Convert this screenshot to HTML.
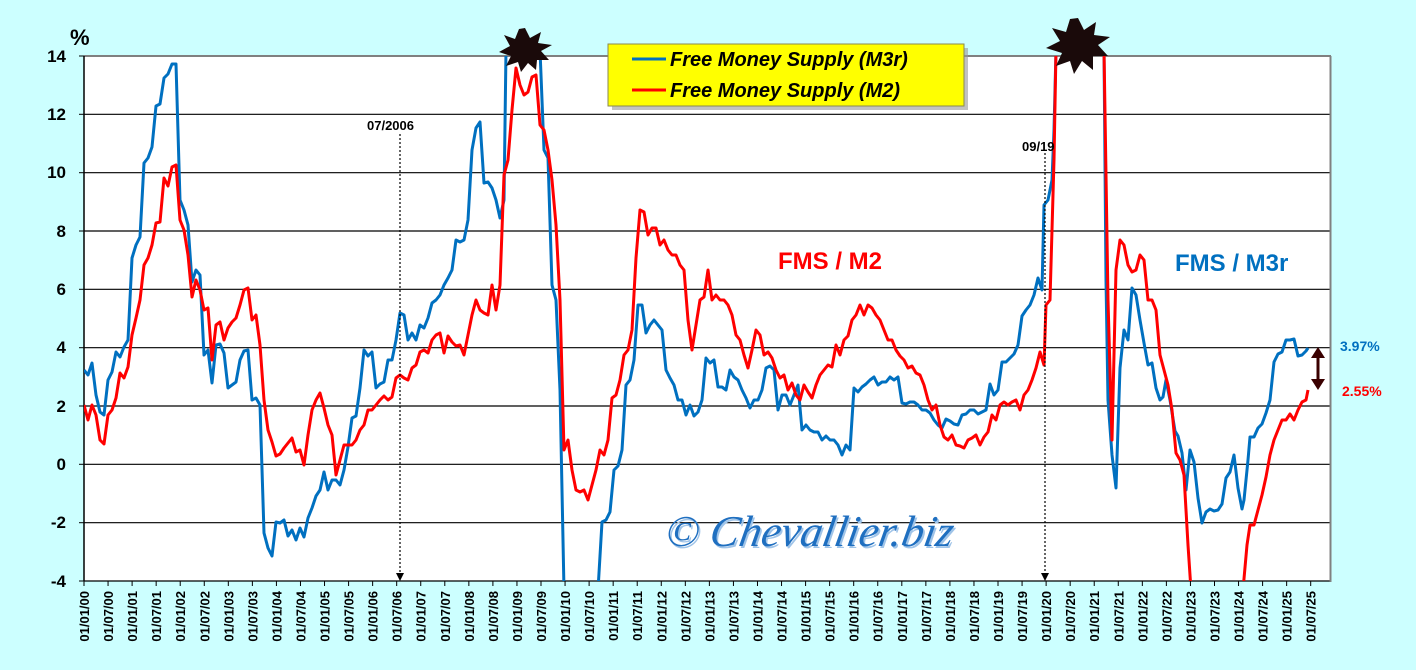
<!DOCTYPE html>
<html><head><meta charset="utf-8"><style>
body{margin:0;background:#ccffff;}
svg{display:block;font-family:"Liberation Sans",Arial,sans-serif;}
</style></head><body>
<svg width="1416" height="670" xmlns="http://www.w3.org/2000/svg">
<rect width="1416" height="670" fill="#ccffff"/>
<defs><clipPath id="c"><rect x="84" y="56" width="1246" height="525"/></clipPath></defs>
<rect x="84" y="56" width="1246" height="525" fill="#fff"/>
<g stroke="#000" stroke-width="1.2">
<line x1="84" x2="1330" y1="114.3" y2="114.3"/><line x1="84" x2="1330" y1="172.7" y2="172.7"/>
<line x1="84" x2="1330" y1="231" y2="231"/><line x1="84" x2="1330" y1="289.3" y2="289.3"/>
<line x1="84" x2="1330" y1="347.7" y2="347.7"/><line x1="84" x2="1330" y1="406" y2="406"/>
<line x1="84" x2="1330" y1="464.3" y2="464.3"/><line x1="84" x2="1330" y1="522.7" y2="522.7"/>
<line x1="84" x2="1330" y1="581" y2="581"/>
</g>
<line x1="84" x2="1331" y1="56" y2="56" stroke="#808080" stroke-width="2"/>
<line x1="1330.5" x2="1330.5" y1="56" y2="582" stroke="#808080" stroke-width="2"/>
<line x1="84" x2="84" y1="56" y2="581" stroke="#000" stroke-width="1.5"/>
<g font-size="17" font-weight="bold" text-anchor="end">
<text x="66" y="62">14</text><text x="66" y="120">12</text><text x="66" y="178">10</text>
<text x="66" y="237">8</text><text x="66" y="295">6</text><text x="66" y="353">4</text>
<text x="66" y="412">2</text><text x="66" y="470">0</text><text x="66" y="528">-2</text><text x="66" y="587">-4</text>
</g>
<g stroke="#000" stroke-width="1"><line x1="79" x2="84" y1="56" y2="56"/><line x1="79" x2="84" y1="114.3" y2="114.3"/><line x1="79" x2="84" y1="172.7" y2="172.7"/><line x1="79" x2="84" y1="231" y2="231"/><line x1="79" x2="84" y1="289.3" y2="289.3"/><line x1="79" x2="84" y1="347.7" y2="347.7"/><line x1="79" x2="84" y1="406" y2="406"/><line x1="79" x2="84" y1="464.3" y2="464.3"/><line x1="79" x2="84" y1="522.7" y2="522.7"/><line x1="79" x2="84" y1="581" y2="581"/></g>
<text x="70" y="45" font-size="22" font-weight="bold">%</text>
<g id="xl" font-size="13" font-weight="bold"></g>
<g clip-path="url(#c)" fill="none" stroke-width="3" stroke-linejoin="round">
<polyline stroke="#0070c0" points="84,370 88,375 92,363 96,395 100,412 104,415 108,380 112,372 116,352 120,357 124,347 128,340 132,258 136,245 140,237 144,163 148,158 152,147 156,106 160,104 164,78 168,74 172,64 176,64 180,200 184,210 188,225 192,282 196,270 200,275 204,355 208,350 212,383 216,345 220,344 224,353 228,388 232,385 236,382 240,360 244,351 248,350 252,400 256,398 260,405 264,533 268,548 272,556 276,522 280,523 284,520 288,536 292,530 296,540 300,528 304,537 308,518 312,508 316,496 320,490 324,472 328,490 332,480 336,480 340,485 344,470 348,447 352,418 356,416 360,388 364,350 368,356 372,352 376,388 380,384 384,382 388,360 392,360 396,340 400,313 404,315 408,340 412,333 416,340 420,325 424,328 428,318 432,303 436,300 440,295 444,285 448,278 452,270 456,240 460,242 464,240 468,220 472,150 476,128 480,122 484,183 488,182 492,188 496,200 500,218 504,200 506,50 540,50 544,150 548,158 552,285 556,300 560,390 564,590 598,590 602,522 606,520 610,512 614,470 618,466 622,450 626,385 630,380 634,360 638,305 642,305 646,333 650,325 654,320 658,325 662,330 666,370 670,378 674,385 678,400 682,400 686,415 690,405 694,416 698,412 702,400 706,358 710,363 714,360 718,387 722,387 726,390 730,370 734,377 738,380 742,390 746,398 750,408 754,400 758,400 762,390 766,368 770,366 774,370 778,410 782,395 786,395 790,405 794,395 798,385 802,430 806,425 810,430 814,432 818,432 822,440 826,436 830,440 834,440 838,445 842,455 846,445 850,450 854,388 858,392 862,387 866,384 870,380 874,377 878,385 882,382 886,382 890,377 894,380 898,377 902,403 906,404 910,402 914,402 918,405 922,410 926,410 930,413 934,420 938,425 942,428 946,419 950,421 954,424 958,425 962,415 966,414 970,410 974,410 978,414 982,412 986,410 990,384 994,395 998,390 1002,362 1006,362 1010,358 1014,354 1018,345 1022,316 1026,310 1030,305 1034,295 1038,278 1042,290 1044,205 1048,200 1052,180 1054,130 1056,50 1104,50 1106,280 1108,400 1112,455 1116,488 1120,368 1124,330 1128,340 1132,288 1136,295 1140,320 1144,343 1148,365 1152,363 1156,388 1160,400 1163,397 1166,380 1170,400 1175,431 1178,436 1182,453 1186,490 1190,450 1194,462 1198,498 1202,523 1206,512 1210,509 1214,511 1218,510 1222,504 1226,478 1230,472 1234,455 1238,488 1242,509 1244,500 1248,460 1250,437 1254,437 1258,428 1262,424 1266,413 1270,400 1274,362 1278,354 1282,352 1286,340 1290,340 1294,339 1298,356 1302,355 1306,351 1308,348"/>
<polyline stroke="#ff0000" points="84,405 88,420 92,405 96,415 100,440 104,444 108,415 112,410 116,398 120,373 124,378 128,367 132,335 136,318 140,300 144,265 148,258 152,245 156,223 160,222 164,178 168,186 172,167 176,165 180,220 184,230 188,255 192,297 196,280 200,290 204,310 208,308 212,360 216,325 220,322 224,340 228,328 232,322 236,318 240,305 244,290 248,288 252,320 256,315 260,345 264,400 268,430 272,442 276,456 280,454 284,448 288,443 292,438 296,452 300,450 304,465 308,435 312,410 316,400 320,393 324,408 328,425 332,435 336,475 340,460 344,445 348,445 352,445 356,440 360,430 364,425 368,410 372,410 376,405 380,400 384,396 388,400 392,397 396,378 400,375 404,378 408,380 412,368 416,365 420,352 424,350 428,353 432,340 436,335 440,333 444,353 448,336 452,342 456,346 460,345 464,355 468,335 472,315 476,300 480,310 484,313 488,315 492,285 496,310 500,285 504,175 508,160 512,110 516,68 520,85 524,95 528,92 532,77 536,75 540,125 544,130 548,150 552,180 556,225 560,300 564,450 568,440 572,470 576,490 580,492 584,490 588,500 592,485 596,470 600,450 604,455 608,440 612,398 616,395 620,380 624,355 628,350 632,330 636,258 640,210 644,212 648,235 652,228 656,228 660,245 664,240 668,250 672,255 676,255 680,265 684,270 688,320 692,350 696,325 700,300 704,297 708,270 712,300 716,295 720,300 724,300 728,305 732,315 736,335 740,340 744,355 748,368 752,350 756,330 760,335 764,355 768,352 772,358 776,370 780,378 784,375 788,390 792,383 796,395 800,400 804,385 808,392 812,398 816,385 820,375 824,370 828,365 832,367 836,345 840,355 844,340 848,336 852,320 856,315 860,305 864,315 868,305 872,308 876,315 880,320 884,330 888,340 892,340 896,350 900,356 904,360 908,368 912,366 916,373 920,375 924,385 928,400 932,410 936,405 940,425 944,437 948,440 952,435 956,445 960,446 964,448 968,440 972,438 976,435 980,445 984,437 988,432 992,415 996,420 1000,405 1004,402 1008,405 1012,402 1016,400 1020,410 1024,395 1028,390 1032,380 1036,368 1040,352 1044,365 1046,305 1050,300 1054,160 1056,50 1104,50 1108,300 1112,440 1116,270 1120,240 1124,245 1128,265 1132,272 1136,270 1140,255 1144,260 1148,300 1152,300 1156,310 1160,355 1164,370 1168,385 1172,410 1176,453 1180,460 1184,475 1188,545 1191,590 1243,590 1247,545 1250,525 1254,525 1258,510 1262,495 1266,477 1270,455 1274,440 1278,430 1282,420 1286,420 1290,414 1294,420 1298,410 1302,402 1306,400 1308,390"/>
</g>
<g stroke="#000" stroke-width="1.2" stroke-dasharray="2,2"><line x1="400" x2="400" y1="134" y2="574"/><line x1="1045" x2="1045" y1="153" y2="574"/></g>
<polygon points="396,573 404,573 400,581" fill="#000"/><polygon points="1041,573 1049,573 1045,581" fill="#000"/>
<text x="367" y="130" font-size="13" font-weight="bold">07/2006</text>
<text x="1022" y="151" font-size="13" font-weight="bold">09/19</text>
<polygon fill="#1a0a0a" points="525,28 530,38 541,32 538,43 552,45 541,51 549,60 537,60 536,70 528,63 521,72 518,62 506,66 511,56 499,52 510,46 504,35 515,39 519,29"/>
<polygon fill="#1a0a0a" points="1078,18 1084,30 1096,22 1094,35 1110,37 1098,45 1108,56 1093,56 1093,70 1082,61 1074,74 1070,61 1056,66 1062,53 1046,48 1060,41 1052,28 1066,32 1070,19"/>
<rect x="612" y="48" width="356" height="62" fill="#9a9a9a" opacity="0.6"/>
<rect x="608" y="44" width="356" height="62" fill="#ffff00" stroke="#8a8a50" stroke-width="1"/>
<line x1="632" x2="666" y1="59" y2="59" stroke="#0070c0" stroke-width="3"/>
<line x1="632" x2="666" y1="90" y2="90" stroke="#ff0000" stroke-width="3"/>
<g font-size="20" font-weight="bold" font-style="italic"><text x="670" y="66">Free Money Supply (M3r)</text><text x="670" y="97">Free Money Supply (M2)</text></g>
<text x="778" y="269" font-size="24" font-weight="bold" fill="#ff0000">FMS / M2</text>
<text x="1175" y="271" font-size="24" font-weight="bold" fill="#0070c0">FMS / M3r</text>
<text x="1340" y="351" font-size="14" font-weight="bold" fill="#0070c0">3.97%</text>
<text x="1342" y="396" font-size="14" font-weight="bold" fill="#ff0000">2.55%</text>
<line x1="1318" x2="1318" y1="356" y2="381" stroke="#3a0000" stroke-width="3"/>
<polygon points="1311,358 1325,358 1318,347" fill="#3a0000"/><polygon points="1311,379 1325,379 1318,390" fill="#3a0000"/>
<text x="667" y="548" font-size="44" font-style="italic" font-family="'Liberation Serif',serif" fill="#a0c4e8" transform="skewX(-10) translate(95,0)">© Chevallier.biz</text>
<text x="665" y="546" font-size="44" font-style="italic" font-family="'Liberation Serif',serif" fill="#1f6fc0" transform="skewX(-10) translate(95,0)">© Chevallier.biz</text>
<g stroke="#000" stroke-width="1" id="xt"></g>
<script>
var g=document.getElementById('xl'),t=document.getElementById('xt'),ns="http://www.w3.org/2000/svg";
for(var i=0;i<52;i++){var x=84+i*24.053;var yr=Math.floor(i/2),s=(i%2?'01/07/':'01/01/')+(yr<10?'0':'')+yr;
var e=document.createElementNS(ns,'text');e.setAttribute('transform','translate('+(x+5)+',591) rotate(-90)');e.setAttribute('text-anchor','end');e.textContent=s;g.appendChild(e);
var l=document.createElementNS(ns,'line');l.setAttribute('x1',x);l.setAttribute('x2',x);l.setAttribute('y1',581);l.setAttribute('y2',586);t.appendChild(l);}
</script>
</svg>
</body></html>
